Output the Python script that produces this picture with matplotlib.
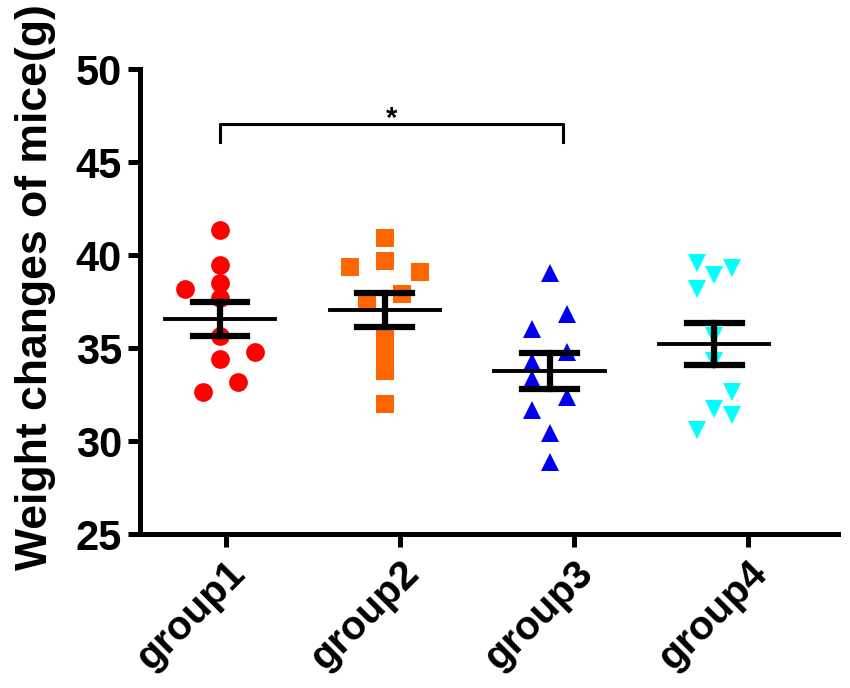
import numpy as np
import matplotlib
matplotlib.use("Agg")
import matplotlib.pyplot as plt
from matplotlib.transforms import ScaledTranslation

plt.rcParams['font.family'] = ['Liberation Sans', 'DejaVu Sans']
plt.rcParams['font.weight'] = 'bold'

groups = ['group1', 'group2', 'group3', 'group4']

group1 = [41.36, 39.50, 38.51, 38.16, 37.71, 35.67, 34.78, 34.42, 33.17, 32.64]
group2 = [40.92, 39.35, 39.67, 39.10, 37.93, 37.54, 35.58, 34.69, 33.80, 31.98]
group3 = [39.05, 36.82, 36.02, 34.78, 34.24, 33.35, 32.37, 31.66, 30.41, 28.90]
group4 = [39.58, 38.93, 39.32, 38.16, 35.67, 34.33, 32.64, 31.75, 31.39, 30.59]

# horizontal scatter offset of each point (column slot)
offs1 = [0, 0, 0, -2, 0, 0, 2, 0, 1, -1]
offs2 = [0, -2, 0, 2, 1, -1, 0, 0, 0, 0]
offs3 = [0, 1, -1, 1, -1, -1, 1, -1, 0, 0]
offs4 = [-1, 0, 1, -1, 0, 0, 1, 0, 1, -1]

values = [group1, group2, group3, group4]
offsets = [offs1, offs2, offs3, offs4]
colors = ['#ff0000', '#ff6600', '#0000ee', '#00ffff']
markers = ['o', 's', '^', 'v']
msizes = [13.5, 13, 13.5, 13.5]

tick_pos = [0.035, 1.093, 2.149, 3.206]

fig = plt.figure(figsize=(8.5, 6.88), dpi=100)
ax = fig.add_axes([0.1647, 0.2238, 0.8213, 0.6752])

for i, (vals, offs) in enumerate(zip(values, offsets)):
    x = i + np.array(offs) * 0.106
    ax.plot(x, vals, linestyle='none', marker=markers[i], color=colors[i],
            markersize=msizes[i], markeredgewidth=0, zorder=2)
    v = np.array(vals)
    mean = v.mean()
    sem = v.std(ddof=1) / np.sqrt(len(v))
    ax.plot([i - 0.334, i + 0.334], [mean, mean], color='black', lw=2.8, zorder=3)
    ax.plot([i, i], [mean - sem, mean + sem], color='black', lw=4.5, zorder=3)
    for y in (mean - sem, mean + sem):
        ax.plot([i - 0.166, i + 0.166], [y, y], color='black', lw=4.5, zorder=3)

# significance bracket group1 vs group3
ax.plot([0, 0, 2.08, 2.08], [46.1, 47.04, 47.04, 46.1], color='black', lw=2.2,
        clip_on=False)
ax.text(1.04, 47.35, '*', ha='center', va='center', fontsize=21, fontweight='bold')

ax.set_xlim(-0.486, 3.752)
ax.set_ylim(25, 50)
ax.set_yticks([25, 30, 35, 40, 45, 50])
ax.set_xticks(tick_pos)
ax.set_xticklabels(groups, rotation=45, ha='right', rotation_mode='anchor',
                   fontsize=29, fontweight='bold')
shift = ScaledTranslation(0.07, 0, fig.dpi_scale_trans)
for lab in ax.get_xticklabels():
    lab.set_transform(lab.get_transform() + shift)
ax.set_ylabel('Weight changes of mice(g)', fontsize=32, fontweight='bold')
ax.yaxis.set_label_coords(-0.120, 0.531)

for s in ['top', 'right']:
    ax.spines[s].set_visible(False)
for s in ['left', 'bottom']:
    ax.spines[s].set_linewidth(3.6)
ax.tick_params(axis='both', width=3.6, length=9)
ax.tick_params(axis='y', labelsize=30, pad=4)
ax.tick_params(axis='x', pad=5)
for lab in ax.get_yticklabels():
    lab.set_fontweight('bold')

fig.savefig('out.png', dpi=100)
